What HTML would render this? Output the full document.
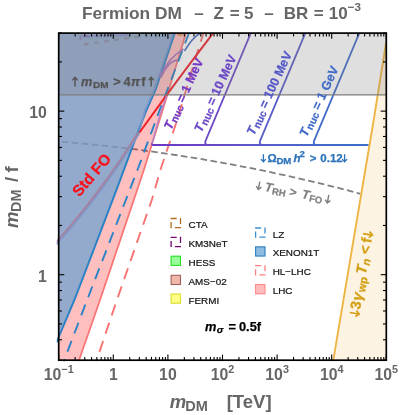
<!DOCTYPE html>
<html><head><meta charset="utf-8"><title>Fermion DM</title>
<style>html,body{margin:0;padding:0;background:#fff;}body{width:400px;height:415px;overflow:hidden;}svg{display:block;will-change:transform;}text{font-family:"Liberation Sans", sans-serif;font-weight:bold;}.i{font-style:italic;}.n{font-weight:normal;}</style>
</head><body>
<svg width="400" height="415" viewBox="0 0 400 415">
<defs><clipPath id="c"><rect x="56.70" y="32.60" width="330.10" height="328.70"/></clipPath>
<clipPath id="c2"><rect x="58.70" y="33.10" width="327.60" height="327.10"/></clipPath>
<linearGradient id="hg" gradientUnits="userSpaceOnUse" x1="152" y1="0" x2="370" y2="0"><stop offset="0" stop-color="#6c38c4"/><stop offset="0.25" stop-color="#6a46c6"/><stop offset="0.5" stop-color="#5a5cc8"/><stop offset="0.75" stop-color="#456ac8"/><stop offset="1" stop-color="#3a70c8"/></linearGradient>
</defs>
<rect x="0" y="0" width="400" height="415" fill="#fff"/>
<g clip-path="url(#c2)">
<polygon points="333.3,360.2 373.7,120 386.3,41.5 386.4,360.2" fill="#fdf3e2"/>
<path d="M58.5,141.6 Q209.25,153.2 360.5,193.8" fill="none" stroke="#7f7f7f" stroke-width="1.8" stroke-dasharray="6.55,3.435" stroke-dashoffset="6.56"/>
<polygon points="56.50,342.50 58.50,337.50 74.40,300.00 94.70,247.00 115.50,192.30 135.00,140.00 146.50,110.00 155.50,90.00 174.80,33.00 186.00,33.00 162.70,110.00 143.20,172.00 100.00,300.00 81.90,352.00 78.40,362.00 58.5,362 40,362" fill="#ff0000" fill-opacity="0.25"/>
<polygon points="40,33 174.80,33.00 155.50,90.00 146.50,110.00 135.00,140.00 115.50,192.30 94.70,247.00 74.40,300.00 58.50,337.50 56.50,342.50 40,345" fill="#7c97c1" fill-opacity="0.82"/>
</g>
<g clip-path="url(#c2)" fill="none">
<path d="M84,44.6 L143,35.8" stroke="#8c8ea8" stroke-width="2.2" stroke-dasharray="4.8,5.4"/>
<path d="M80.5,35 V40 M84,35.5 L89,37" stroke="#8c86b0" stroke-width="2"/>
<path d="M82,36.3 L128,35.3" stroke="#7a62c4" stroke-opacity="0.5" stroke-width="1.6"/>
<path d="M88,38.6 L128,36.4 L166,35" stroke="#6aa892" stroke-opacity="0.45" stroke-width="1.2" stroke-dasharray="2,1.5"/>
<path d="M177.5,34.9 H182.5" stroke="#e08a48" stroke-width="1.6"/>
</g>
<g clip-path="url(#c)" fill="none">
<polyline points="78.40,362.00 81.90,352.00 100.00,300.00 143.20,172.00 162.70,110.00 186.00,33.00" stroke="#f87676" stroke-width="1.8"/>
<polyline points="96,362 116.9,300 151.8,200 161,168 176,123.5 200,43.7 203.5,33" stroke="#f87272" stroke-width="1.9" stroke-dasharray="11.5,7.7" stroke-dashoffset="8.5"/>
<polyline points="63.5,362 85.4,304.4 138,168.5 159.7,110 169,85.7 189,33" stroke="#2a82c6" stroke-width="1.9" stroke-dasharray="11.5,7.9" stroke-dashoffset="8.3"/>
<polyline points="56.50,342.50 58.50,337.50 74.40,300.00 94.70,247.00 115.50,192.30 135.00,140.00 146.50,110.00 155.50,90.00 174.80,33.00" stroke="#2a82c6" stroke-width="2"/>
<path d="M56.5,244.5 C81.5,217 108.2,183.5 138.6,134.6 L145,110 L154,90 L173.3,33" stroke="#7f97c9" stroke-width="1.7"/>
<path d="M55,243.5 C80,216 106.7,182.5 138.2,132.5" stroke="#a3809f" stroke-width="1.9"/>
<path d="M139.5,132.5 Q174.6,83.3 213.3,32.8" stroke="#f0222a" stroke-width="2"/>
<path d="M152,144 L160,114.5 L166.5,96" stroke="#bb84c8" stroke-width="1.5"/>
<path d="M183.5,49 Q168,58 159.5,77.5" stroke="#a876b8" stroke-width="1.7"/>
<path d="M177.5,60.2 Q169,60.5 161,77.5" stroke="#a876b8" stroke-width="1.7"/>
<path d="M200.8,32.8 Q192,38 184.5,51" stroke="#4670c2" stroke-width="1.6"/>
<path d="M152,143.5 Q151.8,145 154,145 L368.7,145" stroke="url(#hg)" stroke-width="1.9"/>
<path d="M250.86,33 L205.50,141 Q204.30,145 208.70,145" stroke="#6f4cc6" stroke-width="1.9"/>
<path d="M305.36,33 L260.00,141 Q258.80,145 263.20,145" stroke="#5a5cc8" stroke-width="1.9"/>
<path d="M359.36,33 L314.00,141 Q312.80,145 317.20,145" stroke="#416cc8" stroke-width="1.9"/>
<polyline points="333.3,360.2 373.7,120 386.3,41.5" stroke="#efb544" stroke-width="1.9"/>
</g>
<rect x="58.70" y="33.10" width="327.60" height="61.81" fill="#808080" fill-opacity="0.25"/>
<line x1="58.70" y1="94.91" x2="386.30" y2="94.91" stroke="#7c7c7c" stroke-width="1.2"/>
<g stroke="#000" stroke-width="1.1" fill="none">
<line x1="58.70" y1="360.20" x2="58.70" y2="354.60"/>
<line x1="58.70" y1="33.10" x2="58.70" y2="38.70"/>
<line x1="75.14" y1="360.20" x2="75.14" y2="356.90"/>
<line x1="75.14" y1="33.10" x2="75.14" y2="36.40"/>
<line x1="84.75" y1="360.20" x2="84.75" y2="356.90"/>
<line x1="84.75" y1="33.10" x2="84.75" y2="36.40"/>
<line x1="91.57" y1="360.20" x2="91.57" y2="356.90"/>
<line x1="91.57" y1="33.10" x2="91.57" y2="36.40"/>
<line x1="96.86" y1="360.20" x2="96.86" y2="356.90"/>
<line x1="96.86" y1="33.10" x2="96.86" y2="36.40"/>
<line x1="101.19" y1="360.20" x2="101.19" y2="356.90"/>
<line x1="101.19" y1="33.10" x2="101.19" y2="36.40"/>
<line x1="104.84" y1="360.20" x2="104.84" y2="356.90"/>
<line x1="104.84" y1="33.10" x2="104.84" y2="36.40"/>
<line x1="108.01" y1="360.20" x2="108.01" y2="356.90"/>
<line x1="108.01" y1="33.10" x2="108.01" y2="36.40"/>
<line x1="110.80" y1="360.20" x2="110.80" y2="356.90"/>
<line x1="110.80" y1="33.10" x2="110.80" y2="36.40"/>
<line x1="113.30" y1="360.20" x2="113.30" y2="354.60"/>
<line x1="113.30" y1="33.10" x2="113.30" y2="38.70"/>
<line x1="129.74" y1="360.20" x2="129.74" y2="356.90"/>
<line x1="129.74" y1="33.10" x2="129.74" y2="36.40"/>
<line x1="139.35" y1="360.20" x2="139.35" y2="356.90"/>
<line x1="139.35" y1="33.10" x2="139.35" y2="36.40"/>
<line x1="146.17" y1="360.20" x2="146.17" y2="356.90"/>
<line x1="146.17" y1="33.10" x2="146.17" y2="36.40"/>
<line x1="151.46" y1="360.20" x2="151.46" y2="356.90"/>
<line x1="151.46" y1="33.10" x2="151.46" y2="36.40"/>
<line x1="155.79" y1="360.20" x2="155.79" y2="356.90"/>
<line x1="155.79" y1="33.10" x2="155.79" y2="36.40"/>
<line x1="159.44" y1="360.20" x2="159.44" y2="356.90"/>
<line x1="159.44" y1="33.10" x2="159.44" y2="36.40"/>
<line x1="162.61" y1="360.20" x2="162.61" y2="356.90"/>
<line x1="162.61" y1="33.10" x2="162.61" y2="36.40"/>
<line x1="165.40" y1="360.20" x2="165.40" y2="356.90"/>
<line x1="165.40" y1="33.10" x2="165.40" y2="36.40"/>
<line x1="167.90" y1="360.20" x2="167.90" y2="354.60"/>
<line x1="167.90" y1="33.10" x2="167.90" y2="38.70"/>
<line x1="184.34" y1="360.20" x2="184.34" y2="356.90"/>
<line x1="184.34" y1="33.10" x2="184.34" y2="36.40"/>
<line x1="193.95" y1="360.20" x2="193.95" y2="356.90"/>
<line x1="193.95" y1="33.10" x2="193.95" y2="36.40"/>
<line x1="200.77" y1="360.20" x2="200.77" y2="356.90"/>
<line x1="200.77" y1="33.10" x2="200.77" y2="36.40"/>
<line x1="206.06" y1="360.20" x2="206.06" y2="356.90"/>
<line x1="206.06" y1="33.10" x2="206.06" y2="36.40"/>
<line x1="210.39" y1="360.20" x2="210.39" y2="356.90"/>
<line x1="210.39" y1="33.10" x2="210.39" y2="36.40"/>
<line x1="214.04" y1="360.20" x2="214.04" y2="356.90"/>
<line x1="214.04" y1="33.10" x2="214.04" y2="36.40"/>
<line x1="217.21" y1="360.20" x2="217.21" y2="356.90"/>
<line x1="217.21" y1="33.10" x2="217.21" y2="36.40"/>
<line x1="220.00" y1="360.20" x2="220.00" y2="356.90"/>
<line x1="220.00" y1="33.10" x2="220.00" y2="36.40"/>
<line x1="222.50" y1="360.20" x2="222.50" y2="354.60"/>
<line x1="222.50" y1="33.10" x2="222.50" y2="38.70"/>
<line x1="238.94" y1="360.20" x2="238.94" y2="356.90"/>
<line x1="238.94" y1="33.10" x2="238.94" y2="36.40"/>
<line x1="248.55" y1="360.20" x2="248.55" y2="356.90"/>
<line x1="248.55" y1="33.10" x2="248.55" y2="36.40"/>
<line x1="255.37" y1="360.20" x2="255.37" y2="356.90"/>
<line x1="255.37" y1="33.10" x2="255.37" y2="36.40"/>
<line x1="260.66" y1="360.20" x2="260.66" y2="356.90"/>
<line x1="260.66" y1="33.10" x2="260.66" y2="36.40"/>
<line x1="264.99" y1="360.20" x2="264.99" y2="356.90"/>
<line x1="264.99" y1="33.10" x2="264.99" y2="36.40"/>
<line x1="268.64" y1="360.20" x2="268.64" y2="356.90"/>
<line x1="268.64" y1="33.10" x2="268.64" y2="36.40"/>
<line x1="271.81" y1="360.20" x2="271.81" y2="356.90"/>
<line x1="271.81" y1="33.10" x2="271.81" y2="36.40"/>
<line x1="274.60" y1="360.20" x2="274.60" y2="356.90"/>
<line x1="274.60" y1="33.10" x2="274.60" y2="36.40"/>
<line x1="277.10" y1="360.20" x2="277.10" y2="354.60"/>
<line x1="277.10" y1="33.10" x2="277.10" y2="38.70"/>
<line x1="293.54" y1="360.20" x2="293.54" y2="356.90"/>
<line x1="293.54" y1="33.10" x2="293.54" y2="36.40"/>
<line x1="303.15" y1="360.20" x2="303.15" y2="356.90"/>
<line x1="303.15" y1="33.10" x2="303.15" y2="36.40"/>
<line x1="309.97" y1="360.20" x2="309.97" y2="356.90"/>
<line x1="309.97" y1="33.10" x2="309.97" y2="36.40"/>
<line x1="315.26" y1="360.20" x2="315.26" y2="356.90"/>
<line x1="315.26" y1="33.10" x2="315.26" y2="36.40"/>
<line x1="319.59" y1="360.20" x2="319.59" y2="356.90"/>
<line x1="319.59" y1="33.10" x2="319.59" y2="36.40"/>
<line x1="323.24" y1="360.20" x2="323.24" y2="356.90"/>
<line x1="323.24" y1="33.10" x2="323.24" y2="36.40"/>
<line x1="326.41" y1="360.20" x2="326.41" y2="356.90"/>
<line x1="326.41" y1="33.10" x2="326.41" y2="36.40"/>
<line x1="329.20" y1="360.20" x2="329.20" y2="356.90"/>
<line x1="329.20" y1="33.10" x2="329.20" y2="36.40"/>
<line x1="331.70" y1="360.20" x2="331.70" y2="354.60"/>
<line x1="331.70" y1="33.10" x2="331.70" y2="38.70"/>
<line x1="348.14" y1="360.20" x2="348.14" y2="356.90"/>
<line x1="348.14" y1="33.10" x2="348.14" y2="36.40"/>
<line x1="357.75" y1="360.20" x2="357.75" y2="356.90"/>
<line x1="357.75" y1="33.10" x2="357.75" y2="36.40"/>
<line x1="364.57" y1="360.20" x2="364.57" y2="356.90"/>
<line x1="364.57" y1="33.10" x2="364.57" y2="36.40"/>
<line x1="369.86" y1="360.20" x2="369.86" y2="356.90"/>
<line x1="369.86" y1="33.10" x2="369.86" y2="36.40"/>
<line x1="374.19" y1="360.20" x2="374.19" y2="356.90"/>
<line x1="374.19" y1="33.10" x2="374.19" y2="36.40"/>
<line x1="377.84" y1="360.20" x2="377.84" y2="356.90"/>
<line x1="377.84" y1="33.10" x2="377.84" y2="36.40"/>
<line x1="381.01" y1="360.20" x2="381.01" y2="356.90"/>
<line x1="381.01" y1="33.10" x2="381.01" y2="36.40"/>
<line x1="383.80" y1="360.20" x2="383.80" y2="356.90"/>
<line x1="383.80" y1="33.10" x2="383.80" y2="36.40"/>
<line x1="386.30" y1="360.20" x2="386.30" y2="354.60"/>
<line x1="386.30" y1="33.10" x2="386.30" y2="38.70"/>
<line x1="58.70" y1="360.20" x2="62.00" y2="360.20"/>
<line x1="386.30" y1="360.20" x2="383.00" y2="360.20"/>
<line x1="58.70" y1="339.77" x2="62.00" y2="339.77"/>
<line x1="386.30" y1="339.77" x2="383.00" y2="339.77"/>
<line x1="58.70" y1="323.92" x2="62.00" y2="323.92"/>
<line x1="386.30" y1="323.92" x2="383.00" y2="323.92"/>
<line x1="58.70" y1="310.97" x2="62.00" y2="310.97"/>
<line x1="386.30" y1="310.97" x2="383.00" y2="310.97"/>
<line x1="58.70" y1="300.02" x2="62.00" y2="300.02"/>
<line x1="386.30" y1="300.02" x2="383.00" y2="300.02"/>
<line x1="58.70" y1="290.53" x2="62.00" y2="290.53"/>
<line x1="386.30" y1="290.53" x2="383.00" y2="290.53"/>
<line x1="58.70" y1="282.17" x2="62.00" y2="282.17"/>
<line x1="386.30" y1="282.17" x2="383.00" y2="282.17"/>
<line x1="58.70" y1="274.68" x2="64.30" y2="274.68"/>
<line x1="386.30" y1="274.68" x2="380.70" y2="274.68"/>
<line x1="58.70" y1="225.45" x2="62.00" y2="225.45"/>
<line x1="386.30" y1="225.45" x2="383.00" y2="225.45"/>
<line x1="58.70" y1="196.65" x2="62.00" y2="196.65"/>
<line x1="386.30" y1="196.65" x2="383.00" y2="196.65"/>
<line x1="58.70" y1="176.22" x2="62.00" y2="176.22"/>
<line x1="386.30" y1="176.22" x2="383.00" y2="176.22"/>
<line x1="58.70" y1="160.37" x2="62.00" y2="160.37"/>
<line x1="386.30" y1="160.37" x2="383.00" y2="160.37"/>
<line x1="58.70" y1="147.42" x2="62.00" y2="147.42"/>
<line x1="386.30" y1="147.42" x2="383.00" y2="147.42"/>
<line x1="58.70" y1="136.47" x2="62.00" y2="136.47"/>
<line x1="386.30" y1="136.47" x2="383.00" y2="136.47"/>
<line x1="58.70" y1="126.98" x2="62.00" y2="126.98"/>
<line x1="386.30" y1="126.98" x2="383.00" y2="126.98"/>
<line x1="58.70" y1="118.62" x2="62.00" y2="118.62"/>
<line x1="386.30" y1="118.62" x2="383.00" y2="118.62"/>
<line x1="58.70" y1="111.13" x2="64.30" y2="111.13"/>
<line x1="386.30" y1="111.13" x2="380.70" y2="111.13"/>
<line x1="58.70" y1="61.90" x2="62.00" y2="61.90"/>
<line x1="386.30" y1="61.90" x2="383.00" y2="61.90"/>
<line x1="58.70" y1="33.10" x2="62.00" y2="33.10"/>
<line x1="386.30" y1="33.10" x2="383.00" y2="33.10"/>
<rect x="58.70" y="33.10" width="327.60" height="327.10" stroke-width="1.7"/>
</g>
<g fill="#666666" font-size="15.8" text-anchor="middle">
<text x="58.70" y="379.5">10<tspan dy="-6.8" font-size="10.8">−1</tspan></text>
<text x="113.30" y="379.5">1</text>
<text x="167.90" y="379.5">10</text>
<text x="222.50" y="379.5">10<tspan dy="-6.8" font-size="10.8">2</tspan></text>
<text x="277.10" y="379.5">10<tspan dy="-6.8" font-size="10.8">3</tspan></text>
<text x="331.70" y="379.5">10<tspan dy="-6.8" font-size="10.8">4</tspan></text>
<text x="386.30" y="379.5">10<tspan dy="-6.8" font-size="10.8">5</tspan></text>
</g>
<g fill="#666666" font-size="15.8" text-anchor="end">
<text x="46.9" y="118.23">10</text>
<text x="46.9" y="281.78">1</text>
</g>
<g fill="#666666" font-size="18.5"><text class="i" x="169.7" y="407.5">m</text><text x="185.3" y="410.8" font-size="14.5">DM</text><text x="226.7" y="407.5">[TeV]</text></g>
<g transform="translate(18.2,228.1) rotate(-90)" fill="#666666" font-size="18.5"><text class="i" x="0" y="0">m</text><text x="16.2" y="3" font-size="14.4">DM</text><text x="46.1" y="0">/</text><text x="55.5" y="0">f</text></g>
<g fill="#666666" font-size="17">
<text x="82" y="18.8" font-size="17.3">Fermion DM</text>
<text x="194.3" y="18.8">–</text>
<text x="213.4" y="18.8">Z</text>
<text x="229.8" y="18.8">=</text>
<text x="244.0" y="18.8">5</text>
<text x="264.3" y="18.8">–</text>
<text x="283.8" y="18.8">BR</text>
<text x="313.8" y="18.8">=</text>
<text x="328.7" y="18.8">10</text>
<text x="347.8" y="10.7" font-size="11.7">−3</text>
</g>
<path d="M170.60,218.50 h6.10 M180.50,218.00 v6.10 M181.00,227.70 h-6.10 M171.10,228.20 v-6.10" fill="none" stroke="#b26c24" stroke-width="1.3"/>
<text class="n" x="188.5" y="228.00" font-size="9.9" fill="#141414" stroke="#141414" stroke-width="0.22">CTA</text>
<path d="M170.60,237.35 h6.10 M180.50,236.85 v6.10 M181.00,246.55 h-6.10 M171.10,247.05 v-6.10" fill="none" stroke="#700870" stroke-width="1.3"/>
<text class="n" x="188.5" y="246.85" font-size="9.9" fill="#141414" stroke="#141414" stroke-width="0.22">KM3NeT</text>
<rect x="171.10" y="256.20" width="9.40" height="9.20" fill="#99ff99" stroke="#22dd22" stroke-width="1.1"/>
<text class="n" x="188.5" y="265.70" font-size="9.9" fill="#141414" stroke="#141414" stroke-width="0.22">HESS</text>
<rect x="171.10" y="275.30" width="9.40" height="9.20" fill="#f0b8a8" stroke="#a06060" stroke-width="1.1"/>
<text class="n" x="188.5" y="284.80" font-size="9.9" fill="#141414" stroke="#141414" stroke-width="0.22">AMS−02</text>
<rect x="171.10" y="294.00" width="9.40" height="9.20" fill="#ffff88" stroke="#dcdc30" stroke-width="1.1"/>
<text class="n" x="188.5" y="303.50" font-size="9.9" fill="#141414" stroke="#141414" stroke-width="0.22">FERMI</text>
<path d="M255.10,228.00 h6.10 M265.00,227.50 v6.10 M265.50,237.20 h-6.10 M255.60,237.70 v-6.10" fill="none" stroke="#3a8fd0" stroke-width="1.3"/>
<text class="n" x="272.7" y="237.50" font-size="9.9" fill="#141414" stroke="#141414" stroke-width="0.22">LZ</text>
<rect x="255.60" y="246.85" width="9.40" height="9.20" fill="#8fbde0" stroke="#2a7fc0" stroke-width="1.1"/>
<text class="n" x="272.7" y="256.35" font-size="9.9" fill="#141414" stroke="#141414" stroke-width="0.22">XENON1T</text>
<path d="M255.10,265.70 h6.10 M265.00,265.20 v6.10 M265.50,274.90 h-6.10 M255.60,275.40 v-6.10" fill="none" stroke="#ff8080" stroke-width="1.3"/>
<text class="n" x="272.7" y="275.20" font-size="9.9" fill="#141414" stroke="#141414" stroke-width="0.22">HL−LHC</text>
<rect x="255.60" y="284.55" width="9.40" height="9.20" fill="#ffbcbc" stroke="#ff8888" stroke-width="1.1"/>
<text class="n" x="272.7" y="294.05" font-size="9.9" fill="#141414" stroke="#141414" stroke-width="0.22">LHC</text>
<g transform="translate(0,86.25)" fill="#545454" font-size="12.80" stroke="#545454" stroke-width="0.25" stroke-linejoin="round">
<path d="M75.00,0.20 L75.00,-8.67 M72.31,-5.87 L75.00,-8.87 L77.69,-5.87" fill="none" stroke="#545454" stroke-width="1.47" stroke-linejoin="miter"/>
<text class="i" x="80.90" y="0">m</text>
<text x="93.00" y="1.92" font-size="9.98">DM</text>
<text x="113.20" y="0">&gt;</text>
<text x="123.40" y="0">4</text>
<text class="i" x="131.00" y="0">π</text>
<text x="141.20" y="0">f</text>
<path d="M151.20,0.20 L151.20,-8.67 M148.51,-5.87 L151.20,-8.87 L153.89,-5.87" fill="none" stroke="#545454" stroke-width="1.47" stroke-linejoin="miter"/>
</g>
<g transform="translate(0,161.9)" fill="#2c73b8" font-size="11.50" stroke="#2c73b8" stroke-width="0.25" stroke-linejoin="round">
<path d="M263.40,-7.59 L263.40,-0.34 M260.98,-2.81 L263.40,-0.14 L265.81,-2.81" fill="none" stroke="#2c73b8" stroke-width="1.32" stroke-linejoin="miter"/>
<text x="267.40" y="0">Ω</text>
<text x="276.40" y="1.72" font-size="9.66">DM</text>
<text class="i" x="293.60" y="0">h</text>
<text x="299.60" y="-4.95" font-size="9.66">2</text>
<text x="309.80" y="0">&gt;</text>
<text x="320.30" y="0">0.12</text>
<path d="M344.60,-7.59 L344.60,-0.34 M342.19,-2.81 L344.60,-0.14 L347.02,-2.81" fill="none" stroke="#2c73b8" stroke-width="1.32" stroke-linejoin="miter"/>
</g>
<g transform="translate(255,189) rotate(11)" fill="#808080" font-size="12.50" stroke="#808080" stroke-width="0.25" stroke-linejoin="round">
<path d="M3.30,-8.25 L3.30,-0.30 M0.67,-3.02 L3.30,-0.10 L5.92,-3.02" fill="none" stroke="#808080" stroke-width="1.44" stroke-linejoin="miter"/>
<text class="i" x="9.50" y="0">T</text>
<text x="17.20" y="1.88" font-size="9.50">RH</text>
<text x="34.50" y="0">&gt;</text>
<text class="i" x="47.00" y="0">T</text>
<text x="55.00" y="1.88" font-size="9.50">FO</text>
<path d="M73.60,-8.25 L73.60,-0.30 M70.97,-3.02 L73.60,-0.10 L76.22,-3.02" fill="none" stroke="#808080" stroke-width="1.44" stroke-linejoin="miter"/>
</g>
<text transform="translate(79.2,197.6) rotate(-49.5)" font-size="15.4" fill="#fa0f1a" stroke="#fa0f1a" stroke-width="0.25">Std FO</text>
<g transform="translate(171.8,129.3) rotate(-65.0)" fill="#7438c4" font-size="12.50" stroke="#7438c4" stroke-width="0.25" stroke-linejoin="round">
<text class="i" x="-1.20" y="0">T</text>
<text x="7.20" y="1.88" font-size="10.25">nuc</text>
<text x="28.50" y="0">=</text>
<text x="39.30" y="0">1 MeV</text>
</g>
<g transform="translate(202.0,132.0) rotate(-65.0)" fill="#6b48c6" font-size="12.50" stroke="#6b48c6" stroke-width="0.25" stroke-linejoin="round">
<text class="i" x="-1.20" y="0">T</text>
<text x="7.20" y="1.88" font-size="10.25">nuc</text>
<text x="28.50" y="0">=</text>
<text x="39.30" y="0">10 MeV</text>
</g>
<g transform="translate(254.5,135.0) rotate(-65.0)" fill="#5658c8" font-size="12.50" stroke="#5658c8" stroke-width="0.25" stroke-linejoin="round">
<text class="i" x="-1.20" y="0">T</text>
<text x="7.20" y="1.88" font-size="10.25">nuc</text>
<text x="28.50" y="0">=</text>
<text x="39.30" y="0">100 MeV</text>
</g>
<g transform="translate(307.3,136.5) rotate(-65.0)" fill="#3f6ac8" font-size="12.50" stroke="#3f6ac8" stroke-width="0.25" stroke-linejoin="round">
<text class="i" x="-1.20" y="0">T</text>
<text x="7.20" y="1.88" font-size="10.25">nuc</text>
<text x="28.50" y="0">=</text>
<text x="39.30" y="0">1 GeV</text>
</g>
<g transform="translate(358.7,317.5) rotate(-80.5)" fill="#d4a017" font-size="14.50" stroke="#d4a017" stroke-width="0.30" stroke-linejoin="round">
<path d="M3.50,-9.57 L3.50,-0.22 M0.46,-3.44 L3.50,-0.02 L6.54,-3.44" fill="none" stroke="#d4a017" stroke-width="1.67" stroke-linejoin="miter"/>
<text x="7.50" y="0">3</text>
<text class="i" x="16.50" y="0">γ</text>
<text x="25.50" y="2.17" font-size="11.02">wp</text>
<text class="i" x="43.30" y="0">T</text>
<text class="i" x="52.50" y="2.17" font-size="11.02">n</text>
<text x="63.50" y="0">&lt;</text>
<text x="75.00" y="0">f</text>
<path d="M83.50,-9.57 L83.50,-0.22 M80.45,-3.44 L83.50,-0.02 L86.55,-3.44" fill="none" stroke="#d4a017" stroke-width="1.67" stroke-linejoin="miter"/>
</g>
<g transform="translate(0,330.9)" fill="#000" font-size="12.80" stroke="#000" stroke-width="0.25" stroke-linejoin="round">
<text class="i" x="205.00" y="0">m</text>
<text class="i" x="216.80" y="1.92" font-size="9.98">σ</text>
<text x="228.40" y="0">=</text>
<text x="239.00" y="0">0.5f</text>
</g>
</svg></body></html>
